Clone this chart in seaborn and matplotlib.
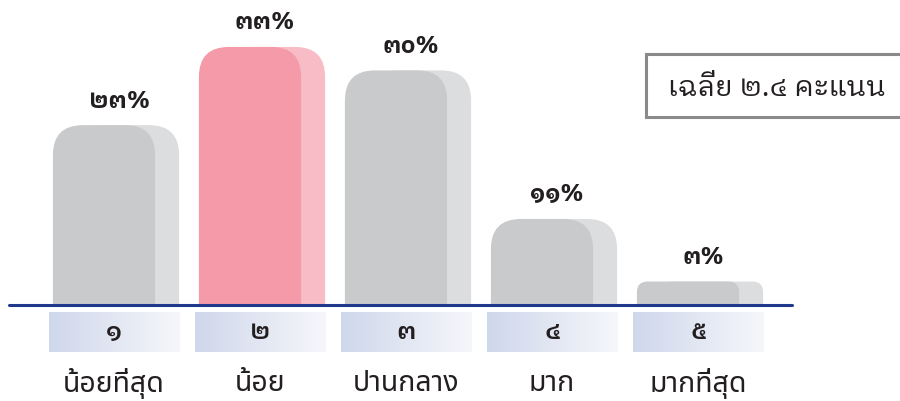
import matplotlib
matplotlib.use("Agg")
from matplotlib import pyplot as plt
from matplotlib.patches import FancyBboxPatch, Rectangle
import numpy as np
import pandas as pd
import seaborn as sns

# ----- data -----
levels = ["๑", "๒", "๓", "๔", "๕"]
labels = ["น้อยที่สุด", "น้อย", "ปานกลาง", "มาก", "มากที่สุด"]
percent = [23, 33, 30, 11, 3]
highlight = "๒"
mean_score = "๒.๔"

THAI_DIGITS = str.maketrans("0123456789", "๐๑๒๓๔๕๖๗๘๙")

# colours
GRAY, GRAY_SHADOW = "#c9cacc", "#dcdddf"
PINK, PINK_SHADOW = "#f49aa8", "#f7bcc6"
LINE = "#1f3a8c"
TEXT = "#231f20"

# fonty: bez smycek pro popisky, se smyckami pro cisla a box
LOOPLESS = ["Noto Sans Thai", "Loma", "DejaVu Sans"]
LOOPED = ["IBM Plex Sans Thai Looped", "Noto Sans Thai Looped", "Loma",
          "DejaVu Sans"]

sns.set_theme(style="white")
plt.rcParams["font.family"] = LOOPLESS

W, H = 900, 402
fig = plt.figure(figsize=(W / 100, H / 100), dpi=100)
base_px = 306          # baseline from top
ax = fig.add_axes([9 / W, (H - base_px) / H, 783 / W, base_px / H])

df = pd.DataFrame({"level": levels, "percent": percent})
colors = [PINK if lv == highlight else GRAY for lv in levels]
sns.barplot(data=df, x="level", y="percent", hue="level", palette=colors,
            legend=False, width=0.70, saturation=1, ax=ax)

px_per_x = 146.0
px_per_y = 7.82
shift = 24 / px_per_x   # posun stinu doprava

bars = list(ax.patches)
for p, lv, lab in zip(bars, levels, labels):
    x, w, h = p.get_x(), p.get_width(), p.get_height()
    p.remove()
    hpx = h * px_per_y
    r_px = min(30, 0.45 * hpx)
    rx, ry = r_px / px_per_x, r_px / px_per_y
    front, back = (PINK, PINK_SHADOW) if lv == highlight else (GRAY, GRAY_SHADOW)
    for dx, col, z in [(shift, back, 1), (0, front, 2)]:
        fb = FancyBboxPatch((x + dx, -ry), w, h + ry,
                            boxstyle=f"round,pad=0,rounding_size={rx}",
                            mutation_aspect=ry / rx, fc=col, ec="none",
                            zorder=z)
        ax.add_patch(fb)

    # popisek hodnoty
    cx = x + (w + shift) / 2 + 3 / px_per_x
    ax.text(cx, h + 25 / px_per_y, f"{h:.0f}%".translate(THAI_DIGITS),
            ha="center", va="center", fontsize=17, fontweight="bold",
            family=LOOPED, color=TEXT, zorder=5)

    # gradientovy box s cislem
    x0, x1 = x - 4 / px_per_x, x + w + shift
    y0, y1 = -47 / px_per_y, -7 / px_per_y
    grad = np.linspace(0, 1, 200)
    c0 = np.array(matplotlib.colors.to_rgb("#cfd7eb"))
    c1 = np.array(matplotlib.colors.to_rgb("#f6f7fb"))
    img = c0[None, :] * (1 - grad[:, None]) + c1[None, :] * grad[:, None]
    ax.imshow(img[None, :, :], extent=(x0, x1, y0, y1), aspect="auto",
              clip_on=False, zorder=1, interpolation="bilinear")
    ax.text((x0 + x1) / 2, (y0 + y1) / 2, lv, ha="center",
            va="center", fontsize=18, fontweight="semibold", family=LOOPED,
            color=TEXT, clip_on=False)
    ax.text((x0 + x1) / 2, -78 / px_per_y, lab,
            ha="center", va="center", fontsize=20.5, color=TEXT,
            clip_on=False)

ax.set_xlim(-95 / px_per_x, (783 - 95) / px_per_x)
ax.set_ylim(0, base_px / px_per_y)
ax.set_axis_off()

ax.axhline(0, color=LINE, lw=2.2, clip_on=False, zorder=6)

# box s prumerem
fig.add_artist(Rectangle((646 / W, (H - 118) / H), 270 / W, 63 / H,
                         transform=fig.transFigure, fc="white",
                         ec="#8a8a8a", lw=2.2))
fig.text(777 / W, (H - 88) / H, f"เฉลี่ย {mean_score} คะแนน",
         ha="center", va="center", fontsize=20.5, fontweight="normal",
         family=LOOPED, color=TEXT)

fig.savefig("out.png", dpi=100)
